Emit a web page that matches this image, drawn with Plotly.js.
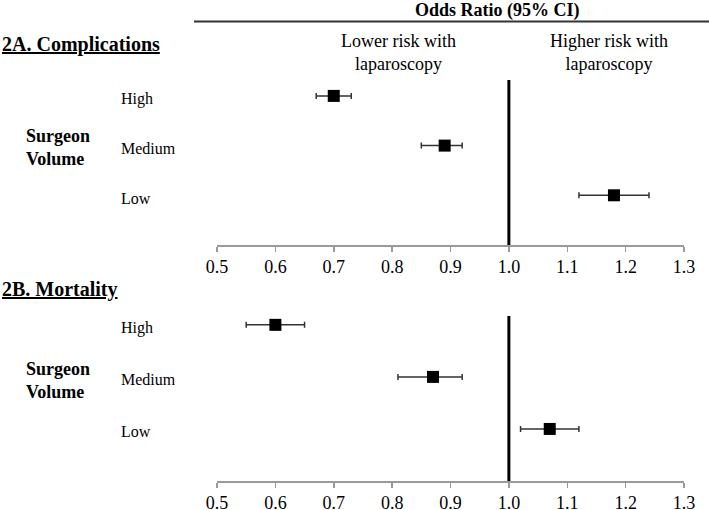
<!DOCTYPE html>
<html>
<head>
<meta charset="utf-8">
<script src="https://cdn.plot.ly/plotly-3.0.1.min.js"></script>
<style>html,body{margin:0;padding:0;background:#fff;}#chart{width:709px;height:510px;}</style>
</head>
<body>
<div id="chart"></div>
<script>
// ---- Data ----
var categories = ['High', 'Medium', 'Low'];
var compOR = [0.70, 0.89, 1.18];
var compLo = [0.67, 0.85, 1.12];
var compHi = [0.73, 0.92, 1.24];
var mortOR = [0.60, 0.87, 1.07];
var mortLo = [0.55, 0.81, 1.02];
var mortHi = [0.65, 0.92, 1.12];
var tickVals = [0.5, 0.6, 0.7, 0.8, 0.9, 1.0, 1.1, 1.2, 1.3];
var tickLabels = ['0.5', '0.6', '0.7', '0.8', '0.9', '1.0', '1.1', '1.2', '1.3'];
var refValue = 1.0;

// ---- Helpers ----
var W = 709, H = 510;
function px(x) { return x / W; }
function py(y) { return 1 - y / H; }
var FONT = '"Liberation Serif", "Times New Roman", Times, serif';
var yPos = categories.map(function (c, i) { return categories.length - i; });

function forestTrace(or, lo, hi, xa, ya) {
  return {
    type: 'scatter', mode: 'markers', x: or, y: yPos, xaxis: xa, yaxis: ya,
    marker: { symbol: 'square', size: 12, color: '#000' },
    error_x: {
      type: 'data', symmetric: false,
      array: hi.map(function (h, i) { return h - or[i]; }),
      arrayminus: lo.map(function (l, i) { return or[i] - l; }),
      color: '#333', thickness: 1.5, width: 3
    },
    hoverinfo: 'x', showlegend: false
  };
}

var data = [
  forestTrace(compOR, compLo, compHi, 'x', 'y'),
  forestTrace(mortOR, mortLo, mortHi, 'x2', 'y2')
];

function xAxis(anchor) {
  return {
    anchor: anchor, domain: [px(217), px(684)], range: [0.5, 1.3],
    tickmode: 'array', tickvals: tickVals, ticktext: tickLabels,
    showline: true, linecolor: '#9a9a9a', linewidth: 1.5,
    ticks: 'outside', ticklen: 5, tickwidth: 1.5, tickcolor: '#9a9a9a',
    showgrid: false, zeroline: false, fixedrange: true,
    tickfont: { family: FONT, size: 18, color: '#000' }
  };
}
function yAxis(dom, top, anchor) {
  return { domain: dom, range: [0, top], visible: false, showgrid: false, zeroline: false, anchor: anchor, fixedrange: true };
}

function ann(text, x, y, opts) {
  var a = {
    text: text, xref: 'paper', yref: 'paper', x: px(x), y: py(y),
    xanchor: 'center', yanchor: 'middle', showarrow: false, align: 'center',
    font: { family: FONT, size: 18, color: '#000' }
  };
  for (var k in opts) a[k] = opts[k];
  return a;
}

var annotations = [
  ann('<b>Odds Ratio (95% CI)</b>', 497, 10, {}),
  ann('<b><u>2A. Complications</u></b>', 0, 44, { xanchor: 'left', font: { family: FONT, size: 20, color: '#000' } }),
  ann('Lower risk with<br>laparoscopy', 398, 53, {}),
  ann('Higher risk with<br>laparoscopy', 609, 53, {}),
  ann('<b>Surgeon<br>Volume</b>', 24, 147, { xanchor: 'left', align: 'left' }),
  ann('<b><u>2B. Mortality</u></b>', 0, 289, { xanchor: 'left', font: { family: FONT, size: 20, color: '#000' } }),
  ann('<b>Surgeon<br>Volume</b>', 24, 380, { xanchor: 'left', align: 'left' })
];
categories.forEach(function (c, i) {
  annotations.push({ text: c, xref: 'paper', yref: 'y', x: px(119), y: yPos[i], xanchor: 'left', yanchor: 'middle',
    yshift: -3, showarrow: false, font: { family: FONT, size: 16, color: '#000' } });
  annotations.push({ text: c, xref: 'paper', yref: 'y2', x: px(119), y: yPos[i], xanchor: 'left', yanchor: 'middle',
    yshift: -3, showarrow: false, font: { family: FONT, size: 16, color: '#000' } });
});

var layout = {
  width: W, height: H, autosize: false,
  margin: { l: 0, r: 0, t: 0, b: 0, pad: 0 },
  paper_bgcolor: '#fff', plot_bgcolor: 'rgba(0,0,0,0)',
  showlegend: false,
  font: { family: FONT },
  xaxis: xAxis('y'),
  yaxis: yAxis([py(245), py(80)], 3.32, 'x'),
  xaxis2: xAxis('y2'),
  yaxis2: yAxis([py(481), py(316)], 3.17, 'x2'),
  shapes: [
    { type: 'line', xref: 'paper', yref: 'paper', x0: px(194), x1: 1, y0: py(21.5), y1: py(21.5), line: { color: '#333', width: 2 } },
    { type: 'line', xref: 'x', yref: 'y domain', x0: refValue, x1: refValue, y0: 0, y1: 1, line: { color: '#000', width: 3 } },
    { type: 'line', xref: 'x2', yref: 'y2 domain', x0: refValue, x1: refValue, y0: 0, y1: 1, line: { color: '#000', width: 3 } }
  ],
  annotations: annotations
};

Plotly.newPlot('chart', data, layout, { displayModeBar: false, staticPlot: true });
</script>
</body>
</html>
